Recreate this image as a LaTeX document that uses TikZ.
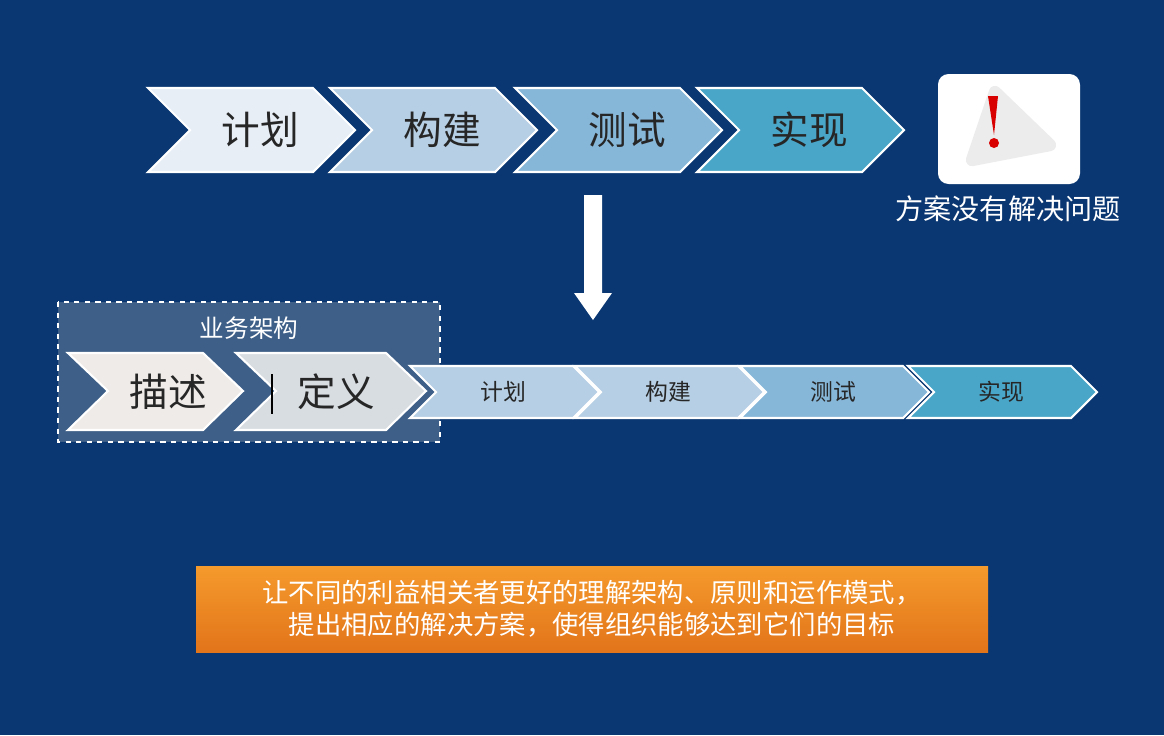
\documentclass[tikz,border=0pt]{standalone}
\usepackage{fontspec}
\newfontfamily\cjk{Noto Sans CJK SC}
\definecolor{bgblue}{HTML}{0A3772}
\definecolor{stepA}{HTML}{E8EEF6}
\definecolor{stepB}{HTML}{B6CFE4}
\definecolor{stepC}{HTML}{86B6D8}
\definecolor{stepD}{HTML}{4AA6C8}
\definecolor{grpfill}{HTML}{3E5F88}
\definecolor{descfill}{HTML}{EFEBE8}
\definecolor{deffill}{HTML}{D8DDE2}
\definecolor{orangeA}{HTML}{F59A2C}
\definecolor{orangeB}{HTML}{E2741A}
\begin{document}
\begin{tikzpicture}[
	x=0.02cm, y=-0.02cm,
	chev/.style={draw=white, line width=1.2pt},
	bigtext/.style={font=\cjk\fontsize{22}{26}\selectfont, text=black!85},
	smalltext/.style={font=\cjk\fontsize{13}{16}\selectfont, text=black!85},
	whitetext/.style={font=\cjk\fontsize{15}{18}\selectfont, text=white, align=center}
	]
	% --- SFONDO ---
	\fill[bgblue] (0,0) rectangle (1164,735);
	\useasboundingbox (0,0) rectangle (1164,735);

	% --- FRECCE IN ALTO ---
	\foreach \xa/\col/\txt/\nm in {148/stepA/计划/tA, 330/stepB/构建/tB, 515/stepC/测试/tC, 697/stepD/实现/tD} {
		\draw[chev, fill=\col] (\xa,88) -- ++(165,0) -- ++(42,42) -- ++(-42,42) -- ++(-165,0) -- ++(42,-42) -- cycle;
		\node[bigtext] (\nm) at (\xa+112,130) {\txt};
	}

	% --- AVVISO ---
	\node[fill=white, rounded corners=6pt, minimum width=142*0.02cm, minimum height=110*0.02cm] (warn) at (1009,129) {};
	\draw[line width=7pt, white!85!gray, line join=round, fill=gray!15] (972,160) -- (995,92) -- (1050,145) -- cycle;
	\fill[red!85!black] (988,96) -- (998,96) -- (994,135) -- cycle;
	\fill[red!85!black] (994,143) circle (5);
	\node[whitetext, font=\cjk\fontsize{16}{18}\selectfont] (warnlbl) at (1008,209) {方案没有解决问题};

	% --- FRECCIA GIU ---
	\coordinate (arrtop) at (593,195);
	\coordinate (arrbot) at (593,320);
	\fill[white] (584,195) -- (602,195) -- (602,293) -- (612,293) -- (arrbot) -- (574,293) -- (584,293) -- cycle;

	% --- GRUPPO ARCHITETTURA ---
	\draw[white, dashed, line width=1.5pt, fill=grpfill] (58,302) rectangle (440,442);
	\node[whitetext, font=\cjk\fontsize{14}{16}\selectfont] (grp) at (249,328) {业务架构};
	\draw[chev, fill=descfill] (68,353) -- ++(135,0) -- ++(40,38) -- ++(-40,39) -- ++(-135,0) -- ++(40,-39) -- cycle;
	\node[bigtext] (desc) at (168,392) {描述};
	\draw[chev, fill=deffill] (236,353) -- ++(150,0) -- ++(40,38) -- ++(-40,39) -- ++(-150,0) -- ++(40,-39) -- cycle;
	\node[bigtext] (defn) at (336,392) {定义};
	\draw[black, line width=1pt] (272,374) -- (272,414);

	% --- FRECCE PICCOLE ---
	\foreach \xa/\col/\txt/\nm in {410/stepB/计划/sA, 575/stepB/构建/sB, 740/stepC/测试/sC, 908/stepD/实现/sD} {
		\draw[chev, fill=\col] (\xa,366) -- ++(163,0) -- ++(26,26) -- ++(-26,26) -- ++(-163,0) -- ++(26,-26) -- cycle;
		\node[smalltext] (\nm) at (\xa+93,392) {\txt};
	}

	% --- RIQUADRO ARANCIONE ---
	\shade[top color=orangeA, bottom color=orangeB] (196,566) rectangle (988,652);
	\node[whitetext] (goal) at (592,609) {让不同的利益相关者更好的理解架构、原则和运作模式，\\提出相应的解决方案，使得组织能够达到它们的目标};
\end{tikzpicture}
\end{document}
